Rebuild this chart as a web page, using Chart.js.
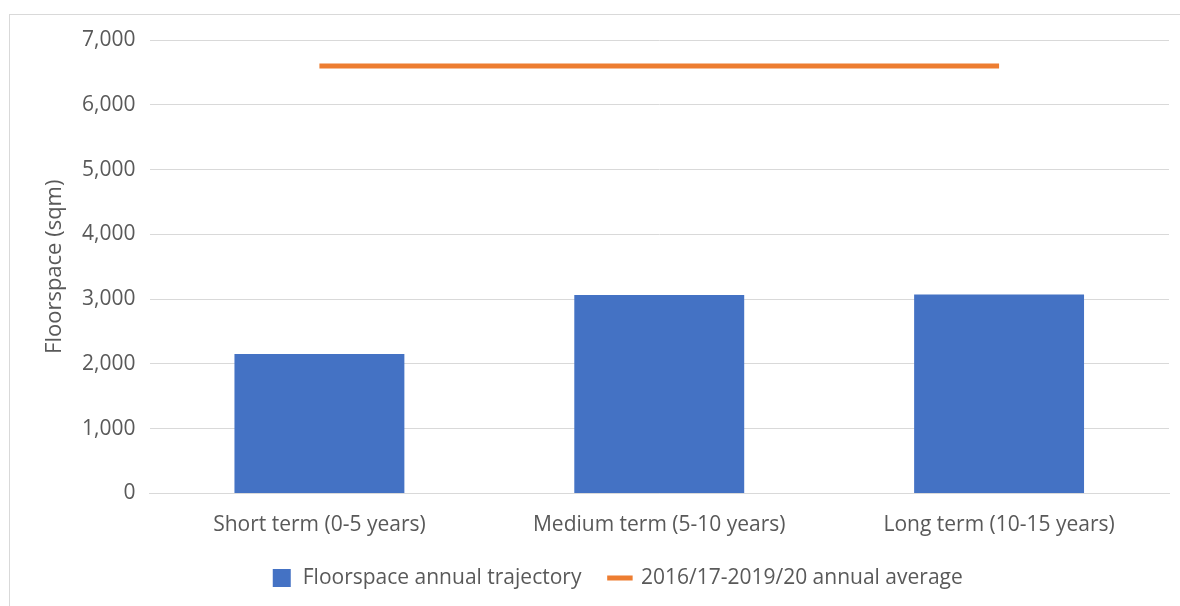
<!DOCTYPE html>
<html>
<head>
<meta charset="utf-8">
<title>Floorspace trajectory</title>
<script src="https://cdn.jsdelivr.net/npm/chart.js@4/dist/chart.umd.min.js"></script>
<style>
  html, body { margin: 0; padding: 0; background: #fff; overflow: hidden; }
  #frame {
    position: absolute; left: 9px; top: 14px;
    width: 1200px; height: 620px;
    border: 1px solid #d9d9d9;
  }
  #chart { position: absolute; left: 0; top: 0; }
</style>
</head>
<body>
<div id="frame"></div>
<canvas id="chart" width="1180" height="606"></canvas>
<script>
  // categories and series
  const categories = ['Short term (0-5 years)', 'Medium term (5-10 years)', 'Long term (10-15 years)'];
  const trajectory = [2155, 3065, 3070];
  const annualAverage = [6600, 6600, 6600];
  const seriesNames = ['Floorspace annual trajectory', '2016/17-2019/20 annual average'];
  const yTicks = [0, 1000, 2000, 3000, 4000, 5000, 6000, 7000];

  const textColor = '#595959';
  const gridColor = '#d9d9d9';
  const fontFamily = '"Open Sans", "Noto Sans", sans-serif';

  Chart.defaults.font.family = fontFamily;
  Chart.defaults.color = textColor;

  // legend sits centred under the plot area rather than the whole canvas
  const nudgeLegend = {
    id: 'nudgeLegend',
    afterLayout(chart) {
      const lg = chart.legend;
      if (!lg) return;
      lg.left += 14;
      lg.right += 14;
    }
  };

  new Chart(document.getElementById('chart'), {
    data: {
      labels: categories,
      datasets: [
        {
          type: 'line',
          label: seriesNames[1],
          data: annualAverage,
          borderColor: '#ed7d31',
          backgroundColor: '#ed7d31',
          borderWidth: 5,
          borderCapStyle: 'butt',
          pointRadius: 0,
          pointStyle: 'line',
          order: 0
        },
        {
          type: 'bar',
          label: seriesNames[0],
          data: trajectory,
          backgroundColor: '#4472c4',
          borderWidth: 0,
          barPercentage: 0.5,
          categoryPercentage: 1.0,
          pointStyle: 'rect',
          order: 1
        }
      ]
    },
    plugins: [nudgeLegend],
    options: {
      responsive: false,
      animation: false,
      layout: { padding: { left: 37, right: 11, top: 40, bottom: 7.5 } },
      plugins: {
        tooltip: { enabled: false },
        legend: {
          position: 'bottom',
          reverse: true,
          labels: {
            usePointStyle: true,
            boxHeight: 18,
            padding: 28,
            color: textColor,
            font: { size: 21 }
          }
        }
      },
      scales: {
        x: {
          grid: { display: false, drawTicks: false },
          border: { display: true, color: gridColor },
          ticks: { padding: 19, color: textColor, font: { size: 21 } },
          afterFit: (scale) => { scale.height = 46; }
        },
        y: {
          min: 0,
          max: 7000,
          afterBuildTicks: (scale) => { scale.ticks = yTicks.map(v => ({ value: v })); },
          grid: { color: gridColor, lineWidth: 1, drawTicks: false },
          border: { display: false },
          ticks: {
            padding: 14,
            color: textColor,
            font: { size: 21 },
            callback: (v) => v.toLocaleString('en-US')
          },
          title: {
            display: true,
            text: 'Floorspace (sqm)',
            color: textColor,
            font: { size: 22 },
            padding: { top: 5, bottom: 0 }
          },
          afterFit: (scale) => { scale.width = 112.5; }
        }
      }
    }
  });
</script>
</body>
</html>
